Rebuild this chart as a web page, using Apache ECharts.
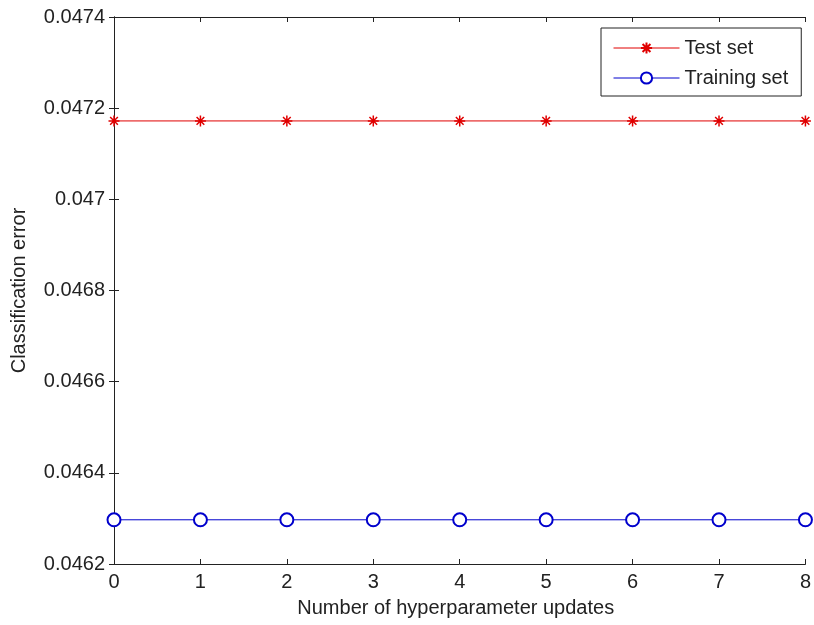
<!DOCTYPE html>
<html>
<head>
<meta charset="utf-8">
<script src="https://cdn.jsdelivr.net/npm/echarts@6/dist/echarts.min.js"></script>
<style>
  html, body { margin: 0; padding: 0; background: #fff; }
  #chart { width: 814px; height: 625px; }
</style>
</head>
<body>
<div id="chart"></div>
<script>
// hyperparameter update steps
const updates = [0, 1, 2, 3, 4, 5, 6, 7, 8];
const testError = [0.047172, 0.047172, 0.047172, 0.047172, 0.047172, 0.047172, 0.047172, 0.047172, 0.047172];
const trainError = [0.046297, 0.046297, 0.046297, 0.046297, 0.046297, 0.046297, 0.046297, 0.046297, 0.046297];

const font = 'Liberation Sans';
const asterisk = 'path://M5,0L5,10M0,5L10,5M1.5,1.5L8.5,8.5M8.5,1.5L1.5,8.5';

const chart = echarts.init(document.getElementById('chart'));

function fmtY(v) {
    return parseFloat(v.toFixed(4)).toString();
}

const axisCommon = {
    axisLine: { show: true, lineStyle: { color: '#222', width: 1 } },
    axisTick: { show: true, inside: true, length: 5, lineStyle: { color: '#222' } },
    splitLine: { show: false }
};

chart.setOption({
    animation: false,
    grid: { left: 114, right: 5, top: 17, bottom: 61 },
    xAxis: [
        Object.assign({
            type: 'value', min: 0, max: 8, interval: 1,
            name: 'Number of hyperparameter updates',
            nameLocation: 'middle', nameGap: 34,
            nameTextStyle: { fontFamily: font, fontSize: 20, color: '#222', padding: [0, 8, 0, 0] },
            axisLabel: { fontFamily: font, fontSize: 20, color: '#222', margin: 8 }
        }, axisCommon),
        Object.assign({
            type: 'value', min: 0, max: 8, interval: 1, position: 'top',
            axisLabel: { show: false }
        }, axisCommon)
    ],
    yAxis: [
        Object.assign({
            type: 'value', min: 0.0462, max: 0.0474, interval: 0.0002,
            name: 'Classification error',
            nameLocation: 'middle', nameGap: 85,
            nameTextStyle: { fontFamily: font, fontSize: 20, color: '#222' },
            axisLabel: { fontFamily: font, fontSize: 20, color: '#222', margin: 9, formatter: fmtY }
        }, axisCommon),
        Object.assign({
            type: 'value', min: 0.0462, max: 0.0474, interval: 0.0002, position: 'right',
            axisLabel: { show: false }
        }, axisCommon)
    ],
    legend: {
        orient: 'vertical',
        left: 601, top: 28,
        padding: [10, 13, 8, 12],
        itemGap: 10,
        itemWidth: 66, itemHeight: 14,
        borderColor: '#222', borderWidth: 1,
        backgroundColor: '#fff',
        lineStyle: { width: 1 },
        textStyle: { fontFamily: font, fontSize: 20, color: '#222' },
        data: ['Test set', 'Training set']
    },
    series: [
        {
            name: 'Test set', type: 'line',
            data: updates.map((x, i) => [x, testError[i]]),
            symbol: asterisk, symbolSize: 11,
            lineStyle: { color: '#e00000', width: 1 },
            itemStyle: { color: 'none', borderColor: '#e00000', borderWidth: 1.5 },
            clip: false
        },
        {
            name: 'Training set', type: 'line',
            data: updates.map((x, i) => [x, trainError[i]]),
            symbol: 'emptyCircle', symbolSize: 13,
            lineStyle: { color: '#0000cc', width: 1 },
            itemStyle: { color: '#0000cc', borderColor: '#0000cc', borderWidth: 1 },
            clip: false
        }
    ]
});
</script>
</body>
</html>
